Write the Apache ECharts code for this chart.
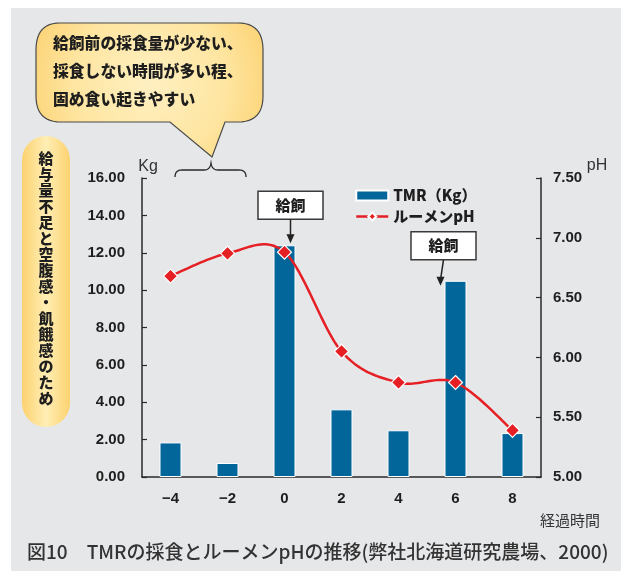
<!DOCTYPE html>
<html>
<head>
<meta charset="utf-8">
<script src="https://cdn.jsdelivr.net/npm/echarts@6/dist/echarts.min.js"></script>
<style>
  html, body { margin: 0; padding: 0; background: #ffffff; }
  #chart { width: 621px; height: 571px; }
</style>
</head>
<body>
<div id="chart"></div>
<script>
// Elapsed hours relative to feeding
const hours = ['\u22124', '\u22122', '0', '2', '4', '6', '8'];
// TMR intake (kg)
const tmrKg = [1.85, 0.75, 12.4, 3.62, 2.5, 10.5, 2.35];
// Rumen pH
const rumenPH = [6.68, 6.87, 6.88, 6.05, 5.79, 5.79, 5.39];
// Axis ranges
const kgAxis = { min: 0, max: 16, interval: 2 };
const phAxis = { min: 5, max: 7.5, interval: 0.5 };
// Feeding events (index into hours)
const feedIdx = [2, 5];

const BLUE = '#02669b';
const RED = '#e51f24';
const INK = '#1e1e1e';
const NUM_FONT = "'Liberation Sans Narrow', 'Liberation Sans', Arial, sans-serif";
const JP_FONT = "'Noto Sans CJK JP', sans-serif";

// Turn a list of segments (start point, ['L', x, y], ['Q', cx, cy, x, y]) into polyline points
function tracePoints(start, segs) {
  const pts = [start.slice()];
  let cur = start.slice();
  segs.forEach(s => {
    if (s[0] === 'L') {
      cur = [s[1], s[2]];
      pts.push(cur);
    } else {
      const [_, cx, cy, x, y] = s;
      for (let i = 1; i <= 12; i++) {
        const t = i / 12, u = 1 - t;
        pts.push([u * u * cur[0] + 2 * u * t * cx + t * t * x, u * u * cur[1] + 2 * u * t * cy + t * t * y]);
      }
      cur = [x, y];
    }
  });
  return pts;
}

// Catmull-Rom spline through pixel points (free overshoot, like spreadsheet smoothing)
function catmullRom(pts, steps) {
  const out = [pts[0]];
  for (let i = 0; i < pts.length - 1; i++) {
    const p0 = pts[Math.max(i - 1, 0)], p1 = pts[i], p2 = pts[i + 1], p3 = pts[Math.min(i + 2, pts.length - 1)];
    const m1 = [(p2[0] - p0[0]) / 2, (p2[1] - p0[1]) / 2];
    const m2 = [(p3[0] - p1[0]) / 2, (p3[1] - p1[1]) / 2];
    for (let s = 1; s <= steps; s++) {
      const t = s / steps, t2 = t * t, t3 = t2 * t;
      const h00 = 2 * t3 - 3 * t2 + 1, h10 = t3 - 2 * t2 + t, h01 = -2 * t3 + 3 * t2, h11 = t3 - t2;
      out.push([
        h00 * p1[0] + h10 * m1[0] + h01 * p2[0] + h11 * m2[0],
        h00 * p1[1] + h10 * m1[1] + h01 * p2[1] + h11 * m2[1]
      ]);
    }
  }
  return out;
}

const bubblePts = tracePoints([60, 23], [
  ['L', 238, 23], ['Q', 263, 23, 263, 50], ['L', 263, 96], ['Q', 263, 122, 238, 122],
  ['L', 225, 122], ['L', 212, 157], ['L', 170, 122], ['L', 61, 122],
  ['Q', 36, 122, 36, 96], ['L', 36, 50], ['Q', 36, 23, 60, 23]
]);

const bracePts = tracePoints([175, 177], [
  ['Q', 175, 170, 182, 170], ['L', 204, 170], ['Q', 210, 170, 211, 163],
  ['Q', 212, 170, 218, 170], ['L', 239, 170], ['Q', 246, 170, 246, 177]
]);

const chart = echarts.init(document.getElementById('chart'), null, { renderer: 'canvas' });

const numLabel = {
  color: INK, fontFamily: NUM_FONT, fontWeight: 'bold', fontSize: 15
};

const baseGraphic = [
  // white page margins around the grey panel
  { type: 'rect', shape: { x: 0, y: 0, width: 11, height: 571 }, style: { fill: '#fff' }, silent: true },
  { type: 'rect', shape: { x: 0, y: 0, width: 621, height: 8 }, style: { fill: '#fff' }, silent: true },
  // speech bubble
  {
    type: 'polygon',
    shape: { points: bubblePts },
    style: {
      fill: {
        type: 'radial', x: 0.5, y: 0.45, r: 0.95,
        colorStops: [{ offset: 0, color: '#fff0c2' }, { offset: 0.6, color: '#fee5a0' }, { offset: 1, color: '#fcd273' }]
      },
      stroke: '#4a4a4a', lineWidth: 1.2
    },
    silent: true
  },
  {
    type: 'text', x: 53, y: 29,
    style: {
      text: '給飼前の採食量が少ない、\n採食しない時間が多い程、\n固め食い起きやすい',
      fill: INK, font: "900 15.8px " + JP_FONT, lineHeight: 28,
      verticalAlign: 'top'
    },
    silent: true
  },
  // brace under the bubble tail
  {
    type: 'polyline',
    shape: { points: bracePts },
    style: { fill: 'none', stroke: '#2a2a2a', lineWidth: 1.3 },
    silent: true
  },
  // vertical pill label
  {
    type: 'rect',
    shape: { x: 22, y: 136, width: 48, height: 291, r: 24 },
    style: {
      fill: {
        type: 'linear', x: 0, y: 0, x2: 1, y2: 0,
        colorStops: [{ offset: 0, color: '#fcd26f' }, { offset: 0.5, color: '#ffeeb5' }, { offset: 1, color: '#fcd26f' }]
      }
    },
    silent: true
  },
  {
    type: 'text', x: 46, y: 150,
    style: {
      text: '給与量不足と空腹感・飢餓感のため'.split('').join('\n'),
      fill: INK, font: "900 15px " + JP_FONT, lineHeight: 16,
      align: 'center', verticalAlign: 'top'
    },
    silent: true
  },
  // axis unit names
  { type: 'text', x: 148, y: 167, style: { text: 'Kg', fill: '#333', font: "16px 'Liberation Sans', Arial, sans-serif", align: 'center', verticalAlign: 'middle' }, silent: true },
  { type: 'text', x: 597, y: 166, style: { text: 'pH', fill: '#333', font: "16px 'Liberation Sans', Arial, sans-serif", align: 'center', verticalAlign: 'middle' }, silent: true },
  { type: 'text', x: 570, y: 520, style: { text: '経過時間', fill: '#333', font: "15px " + JP_FONT, align: 'center', verticalAlign: 'middle' }, silent: true },
  // figure caption
  {
    type: 'text', x: 27, y: 552,
    style: {
      text: '図10　TMRの採食とルーメンpHの推移(弊社北海道研究農場、2000)',
      fill: '#333', font: "500 19px " + JP_FONT, align: 'left', verticalAlign: 'middle'
    },
    silent: true
  }
];

chart.setOption({
  backgroundColor: '#e6e7e9',
  animation: false,
  grid: { left: 142, right: 80, top: 178, bottom: 94, containLabel: false },
  legend: {
    left: 350, top: 183, orient: 'vertical', itemGap: 6,
    itemWidth: 32, itemHeight: 10,
    textStyle: { color: INK, fontFamily: JP_FONT, fontWeight: 900, fontSize: 15 },
    data: [
      { name: 'TMR（Kg）', icon: 'rect' },
      { name: 'ルーメンpH', lineStyle: { color: RED, width: 2.5, opacity: 1 } }
    ]
  },
  xAxis: {
    type: 'category', data: hours, boundaryGap: true,
    axisLine: { lineStyle: { color: '#2a2a2a', width: 1.5 } },
    axisTick: { inside: true, length: 5, lineStyle: { color: '#2a2a2a', width: 1.2 } },
    axisLabel: Object.assign({ margin: 14 }, numLabel),
    splitLine: { show: false }
  },
  yAxis: [
    {
      type: 'value', min: kgAxis.min, max: kgAxis.max, interval: kgAxis.interval,
      axisLine: { show: true, lineStyle: { color: '#2a2a2a', width: 1.5 } },
      axisTick: { show: true, inside: true, length: 5, lineStyle: { color: '#2a2a2a', width: 1.2 } },
      axisLabel: Object.assign({ margin: 17, formatter: v => v.toFixed(2) }, numLabel),
      splitLine: { show: false }
    },
    {
      type: 'value', position: 'right', min: phAxis.min, max: phAxis.max, interval: phAxis.interval,
      axisLine: { show: true, lineStyle: { color: '#2a2a2a', width: 1.5 } },
      axisTick: { show: true, inside: true, length: 5, lineStyle: { color: '#2a2a2a', width: 1.2 } },
      axisLabel: Object.assign({ margin: 12, formatter: v => v.toFixed(2) }, numLabel),
      splitLine: { show: false }
    }
  ],
  series: [
    {
      name: 'TMR（Kg）', type: 'bar', yAxisIndex: 0, data: tmrKg, barWidth: 22,
      itemStyle: { color: BLUE, borderColor: '#ffffff', borderWidth: 1 },
      z: 2
    },
    {
      // diamond markers; the curve itself is drawn by the custom series below
      name: 'ルーメンpH', type: 'line', yAxisIndex: 1, data: rumenPH,
      symbol: 'diamond', symbolSize: 14,
      lineStyle: { color: RED, width: 2.5, opacity: 0 },
      itemStyle: { color: RED, borderColor: '#ffffff', borderWidth: 1.2 },
      z: 4
    },
    {
      type: 'custom', yAxisIndex: 1, z: 3, silent: true,
      data: rumenPH.map((v, i) => [i, v]),
      renderItem: function (params, api) {
        if (params.dataIndex !== 0) return null;
        const pts = rumenPH.map((v, i) => api.coord([i, v]));
        return {
          type: 'polyline',
          shape: { points: catmullRom(pts, 24) },
          style: { stroke: RED, lineWidth: 2.5, fill: 'none', lineJoin: 'round' }
        };
      }
    }
  ],
  graphic: baseGraphic
});

// "給飼" callouts pointing at the feeding bars
const feedGraphic = [];
feedIdx.forEach((idx, k) => {
  const top = chart.convertToPixel({ xAxisIndex: 0, yAxisIndex: 0 }, [idx, tmrKg[idx]]);
  const bx = top[0] + (k === 0 ? 6 : -12);
  const by = top[1] - (k === 0 ? 26 : 21);
  const tipX = top[0] + (k === 0 ? 6 : -15);
  const tipY = top[1] + (k === 0 ? -2 : 5);
  feedGraphic.push(
    {
      type: 'rect', shape: { x: bx - 32.5, y: by - 28, width: 65, height: 28 },
      style: { fill: '#ffffff', stroke: '#3a3a3a', lineWidth: 1.5 }, z: 20, silent: true
    },
    {
      type: 'text', x: bx, y: by - 14,
      style: { text: '給飼', fill: INK, font: "900 15px " + JP_FONT, align: 'center', verticalAlign: 'middle' },
      z: 21, silent: true
    },
    {
      type: 'line', shape: { x1: bx, y1: by, x2: tipX, y2: tipY - 6 },
      style: { stroke: '#222', lineWidth: 1.5 }, z: 20, silent: true
    },
    {
      type: 'polygon', shape: { points: [[tipX - 4, tipY - 9], [tipX + 4, tipY - 9], [tipX, tipY]] },
      style: { fill: '#222' }, z: 20, silent: true
    }
  );
});
chart.setOption({ graphic: baseGraphic.concat(feedGraphic) });
</script>
</body>
</html>
